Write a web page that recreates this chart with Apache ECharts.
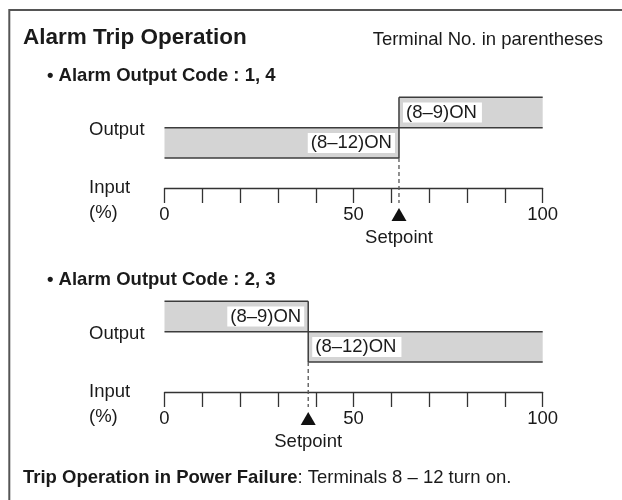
<!DOCTYPE html>
<html>
<head>
<meta charset="utf-8">
<script src="https://cdn.jsdelivr.net/npm/echarts@6/dist/echarts.min.js"></script>
<style>
  html, body { margin: 0; padding: 0; background: #fff; }
  #chart { width: 622px; height: 500px; }
</style>
</head>
<body>
<div id="chart"></div>
<script>
// ---- Data ----
const inputTicks = [0, 50, 100];          // labelled input (%) values
const tickStep = 10;                      // minor tick spacing (%)
const setpoints = [62, 38];               // setpoint (%) for each panel
// [start %, end %, lower level, label]  (level 1 = low band, level 2 = high band)
const panel1Bands = [
  [0, 62, 1, '(8–12)ON'],
  [62, 100, 2, '(8–9)ON']
];
const panel2Bands = [
  [0, 38, 2, '(8–9)ON'],
  [38, 100, 1, '(8–12)ON']
];
const panelTitles = ['• Alarm Output Code : 1, 4', '• Alarm Output Code : 2, 3'];

// ---- Styles ----
const FONT = '"Liberation Sans", Arial, Helvetica, sans-serif';
const TXT = '#1a1a1a';
const EDGE = '#3c3c3c';
const FILL = '#d4d4d4';

const chart = echarts.init(document.getElementById('chart'), null, { renderer: 'canvas' });

function bandRenderer(bands) {
  return function (params, api) {
    const b = bands[params.dataIndex];
    const tl = api.coord([b[0], b[2] + 1]);
    const br = api.coord([b[1], b[2]]);
    const atStart = b[0] === 0;
    const lx = atStart ? br[0] - 4 : tl[0] + 4;
    return {
      type: 'group',
      children: [
        { type: 'rect', shape: { x: tl[0], y: tl[1], width: br[0] - tl[0], height: br[1] - tl[1] }, style: { fill: FILL } },
        { type: 'line', shape: { x1: tl[0], y1: tl[1], x2: br[0], y2: tl[1] }, style: { stroke: EDGE, lineWidth: 1.5 } },
        { type: 'line', shape: { x1: tl[0], y1: br[1], x2: br[0], y2: br[1] }, style: { stroke: EDGE, lineWidth: 1.5 } },
        {
          type: 'text', x: lx, y: (tl[1] + br[1]) / 2, z2: 10,
          style: {
            text: b[3], fill: TXT, font: '18.5px ' + FONT, lineHeight: 18,
            align: atStart ? 'right' : 'left', verticalAlign: 'middle',
            backgroundColor: '#fff', padding: atStart ? [1, 3, 1, 3] : [1, 5, 1, 3]
          }
        }
      ]
    };
  };
}

function setpointRenderer(params, api) {
  const sp = api.value(0);
  const top = api.coord([sp, 3]);
  const low = api.coord([sp, 1]);
  const ax = api.coord([sp, 0]);
  const x = ax[0];
  return {
    type: 'group',
    children: [
      { type: 'line', shape: { x1: x, y1: top[1], x2: x, y2: low[1] }, style: { stroke: EDGE, lineWidth: 1.5 } },
      { type: 'line', shape: { x1: x, y1: low[1], x2: x, y2: ax[1] + 14.5 }, style: { stroke: '#555', lineWidth: 1.3, lineDash: [4, 3] } },
      { type: 'polygon', shape: { points: [[x, ax[1] + 19.5], [x - 7.5, ax[1] + 32.5], [x + 7.5, ax[1] + 32.5]] }, style: { fill: '#111' } },
      { type: 'text', x: x, y: ax[1] + 49.5, style: { text: 'Setpoint', fill: TXT, font: '18.5px ' + FONT, align: 'center', verticalAlign: 'middle' } }
    ]
  };
}

function xAxisFor(gridIndex) {
  return {
    type: 'value', gridIndex: gridIndex, min: 0, max: 100, interval: tickStep,
    position: 'bottom',
    axisLine: { show: true, lineStyle: { color: '#333', width: 1.3 } },
    axisTick: { show: true, length: 14.5, lineStyle: { color: '#333', width: 1.3 } },
    splitLine: { show: false },
    axisLabel: {
      margin: 17, color: TXT, fontSize: 18.5, fontFamily: FONT,
      formatter: function (v) { return inputTicks.indexOf(v) >= 0 ? String(v) : ''; }
    }
  };
}
function yAxisFor(gridIndex) {
  return { type: 'value', gridIndex: gridIndex, min: 0, max: 3, show: false };
}

const PANEL_DY = 204;
const graphics = [
  { type: 'polyline', shape: { points: [[9.3, 520], [9.3, 10], [640, 10]] }, style: { stroke: '#555', lineWidth: 2, fill: null } },
  { type: 'text', x: 23, y: 37.5, style: { text: 'Alarm Trip Operation', font: 'bold 22.5px ' + FONT, fill: TXT, verticalAlign: 'middle' } },
  { type: 'text', x: 603, y: 39.5, style: { text: 'Terminal No. in parentheses', font: '18.5px ' + FONT, fill: TXT, align: 'right', verticalAlign: 'middle' } },
  {
    type: 'text', x: 23, y: 478,
    style: {
      text: '{b|Trip Operation in Power Failure}{r|: Terminals 8 – 12 turn on.}',
      verticalAlign: 'middle',
      rich: {
        b: { font: 'bold 18.5px ' + FONT, fill: TXT },
        r: { font: '18.5px ' + FONT, fill: TXT }
      }
    }
  }
];
[0, 1].forEach(function (i) {
  const dy = i * PANEL_DY;
  graphics.push(
    { type: 'text', x: 47, y: 76 + dy, style: { text: panelTitles[i], font: 'bold 18.5px ' + FONT, fill: TXT, verticalAlign: 'middle' } },
    { type: 'text', x: 89, y: 130 + dy, style: { text: 'Output', font: '18.5px ' + FONT, fill: TXT, verticalAlign: 'middle' } },
    { type: 'text', x: 89, y: 188 + dy, style: { text: 'Input', font: '18.5px ' + FONT, fill: TXT, verticalAlign: 'middle' } },
    { type: 'text', x: 89, y: 212.5 + dy, style: { text: '(%)', font: '18.5px ' + FONT, fill: TXT, verticalAlign: 'middle' } }
  );
});

const option = {
  animation: false,
  backgroundColor: '#fff',
  grid: [
    { left: 164.5, top: 97.3, width: 378.2, height: 91.2, containLabel: false, outerBoundsMode: 'none' },
    { left: 164.5, top: 97.3 + PANEL_DY, width: 378.2, height: 91.2, containLabel: false, outerBoundsMode: 'none' }
  ],
  xAxis: [xAxisFor(0), xAxisFor(1)],
  yAxis: [yAxisFor(0), yAxisFor(1)],
  series: [
    { type: 'custom', xAxisIndex: 0, yAxisIndex: 0, clip: false, renderItem: bandRenderer(panel1Bands), data: panel1Bands.map(function (b) { return [b[0], b[1], b[2]]; }), encode: { x: [0, 1], y: 2 }, silent: true },
    { type: 'custom', xAxisIndex: 0, yAxisIndex: 0, clip: false, z: 3, renderItem: setpointRenderer, data: [[setpoints[0], 0]], silent: true },
    { type: 'custom', xAxisIndex: 1, yAxisIndex: 1, clip: false, renderItem: bandRenderer(panel2Bands), data: panel2Bands.map(function (b) { return [b[0], b[1], b[2]]; }), encode: { x: [0, 1], y: 2 }, silent: true },
    { type: 'custom', xAxisIndex: 1, yAxisIndex: 1, clip: false, z: 3, renderItem: setpointRenderer, data: [[setpoints[1], 0]], silent: true }
  ],
  graphic: graphics
};
chart.setOption(option);
</script>
</body>
</html>
